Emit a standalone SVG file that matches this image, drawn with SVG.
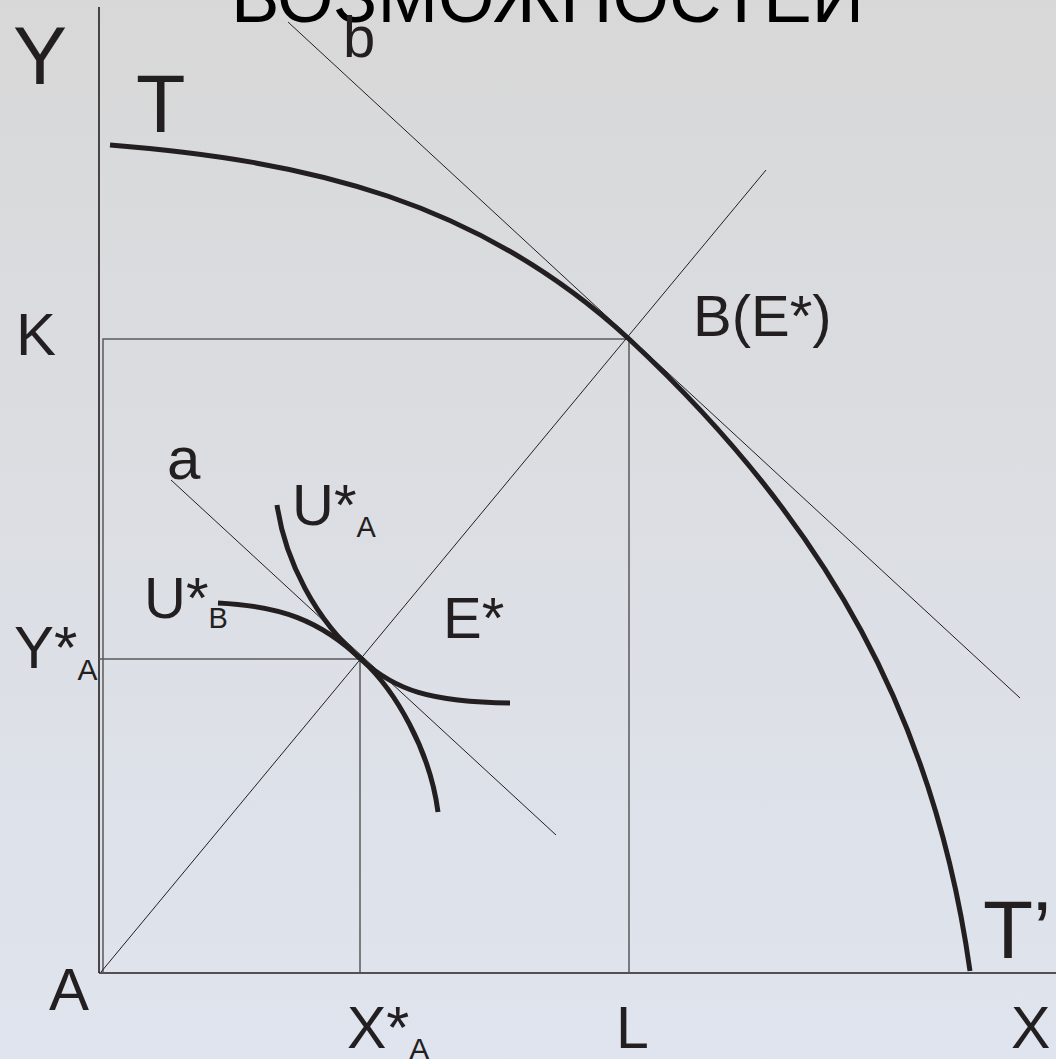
<svg xmlns="http://www.w3.org/2000/svg" width="1056" height="1059" viewBox="0 0 1056 1059">
<defs>
<linearGradient id="bg" x1="0" y1="0" x2="0" y2="1">
<stop offset="0" stop-color="#d8d8d8"/>
<stop offset="1" stop-color="#dfe4ee"/>
</linearGradient>
</defs>
<style>
.lbl{font-family:"Liberation Sans",Arial,sans-serif;fill:#231f20}
.thin{stroke:#231f20;stroke-width:1;fill:none}
.grid{stroke:#5a5a5a;stroke-width:1.5;fill:none}
.axis{stroke:#231f20;stroke-width:1.6;fill:none}
.thick{stroke:#231f20;stroke-width:5;fill:none;stroke-linecap:butt}
</style>
<rect x="0" y="0" width="1056" height="1059" fill="url(#bg)"/>
<text id="title" class="lbl" x="231" y="22" font-size="72" fill="#000" style="fill:#000" textLength="633" lengthAdjust="spacingAndGlyphs">ВОЗМОЖНОСТЕЙ</text>
<g id="connectors">
<line class="axis" x1="99" y1="7" x2="99" y2="973"/>
<line class="axis" x1="99" y1="973" x2="1056" y2="973"/>
<polyline class="grid" points="103,973 103,339 629,339 629,973"/>
<line class="grid" x1="99" y1="659" x2="360" y2="659"/>
<line class="grid" x1="360" y1="659" x2="360" y2="973"/>
<line class="thin" x1="101" y1="972" x2="766" y2="170"/>
<line class="thin" x1="288" y1="22" x2="1020" y2="698"/>
<line class="thin" x1="171" y1="480" x2="556" y2="835"/>
</g>
<g id="curve-T">
<path class="thick" stroke-width="5.5" d="M110,145 C310,161 479,201 629,339 C829,525 935,721 970,971"/>
</g>
<g id="curve-UA">
<path class="thick" d="M277,505 C285,560 315,620 362,660 C395,690 430,750 438,812"/>
</g>
<g id="curve-UB">
<path class="thick" d="M218,603 C280,606 320,620 362,660 C395,690 430,702 510,703"/>
</g>
<g id="labels">
<text class="lbl" x="13" y="84" font-size="81">Y</text>
<text class="lbl" x="136" y="132" font-size="81">T</text>
<text class="lbl" x="343" y="57" font-size="58">b</text>
<text class="lbl" x="16" y="355" font-size="60">K</text>
<text class="lbl" x="693" y="336" font-size="58">B(E*)</text>
<text class="lbl" x="167" y="479" font-size="60">a</text>
<text class="lbl" x="292" y="525" font-size="58">U*<tspan font-size="29" dy="12">A</tspan></text>
<text class="lbl" x="144" y="618" font-size="58">U*<tspan font-size="29" dy="10">B</tspan></text>
<text class="lbl" x="443" y="638" font-size="58">E*</text>
<text class="lbl" x="14" y="668" font-size="60">Y*<tspan font-size="30" dy="12">A</tspan></text>
<text class="lbl" x="49" y="1010" font-size="60">A</text>
<text class="lbl" x="347" y="1048" font-size="59">X*<tspan font-size="30" dy="11">A</tspan></text>
<text class="lbl" x="616" y="1048" font-size="59">L</text>
<text class="lbl" x="1011" y="1048" font-size="59">X</text>
<text class="lbl" x="983" y="958" font-size="82">T’</text>
</g>
</svg>
